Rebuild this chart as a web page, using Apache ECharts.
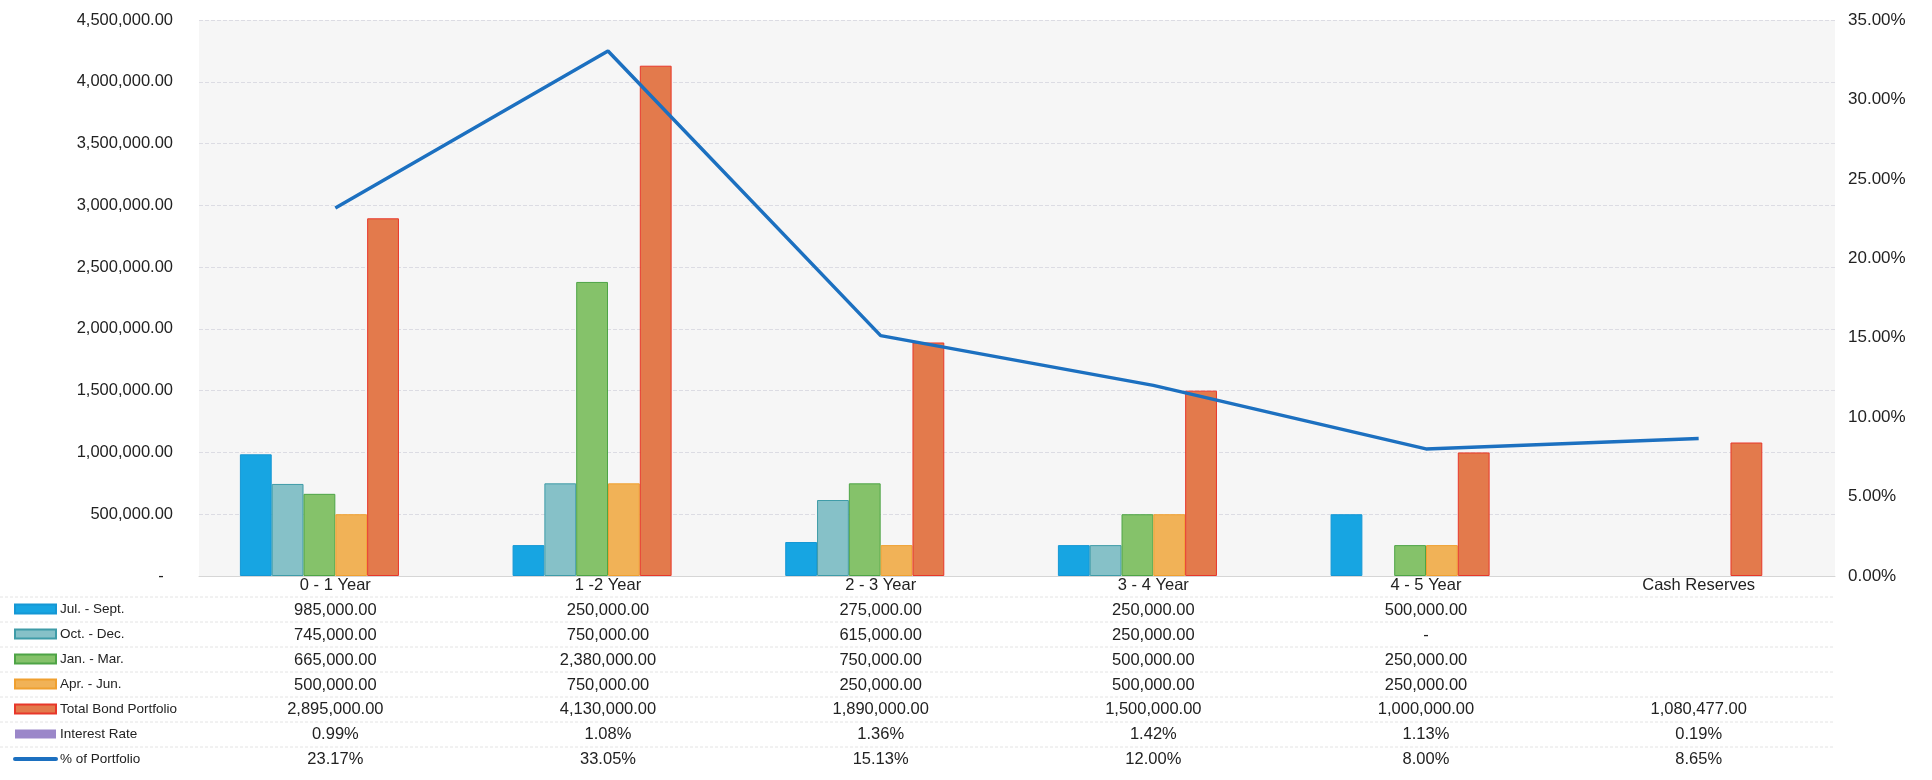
<!DOCTYPE html>
<html>
<head>
<meta charset="utf-8">
<title>Bond Portfolio Maturity</title>
<script src="https://cdn.jsdelivr.net/npm/echarts@6/dist/echarts.min.js"></script>
<style>
  html, body { margin: 0; padding: 0; background: #ffffff; }
  #chart { width: 1932px; height: 780px; }
</style>
</head>
<body>
<div id="chart"></div>
<script>
// Maturity buckets
const categories = ['0 - 1 Year', '1 -2 Year', '2 - 3 Year', '3 - 4 Year', '4 - 5 Year', 'Cash Reserves'];

// Quarterly purchases per bucket
const julSept = [985000, 250000, 275000, 250000, 500000, null];
const octDec = [745000, 750000, 615000, 250000, 0, null];
const janMar = [665000, 2380000, 750000, 500000, 250000, null];
const aprJun = [500000, 750000, 250000, 500000, 250000, null];
const totalBond = [2895000, 4130000, 1890000, 1500000, 1000000, 1080477];
const interestRate = [0.0099, 0.0108, 0.0136, 0.0142, 0.0113, 0.0019];
const pctPortfolio = [0.2317, 0.3305, 0.1513, 0.12, 0.08, 0.0865];

// Axis scales
const amountMax = 4500000;
const amountStep = 500000;
const pctMax = 0.35;
const pctStep = 0.05;

const FONT = '"Liberation Sans", Arial, sans-serif';
const TEXT = '#222222';

function money(v) {
  if (v === null || v === undefined) return ' ';
  if (v === 0) return '-';
  return v.toLocaleString('en-US', { minimumFractionDigits: 2, maximumFractionDigits: 2 });
}
function pct(v) {
  if (v === null || v === undefined) return ' ';
  return (v * 100).toFixed(2) + '%';
}

// Data-table column under each category: name then one line per series
const tableRows = [julSept, octDec, janMar, aprJun, totalBond];
function columnText(value, idx) {
  const lines = [value];
  tableRows.forEach(r => lines.push(money(r[idx])));
  lines.push(pct(interestRate[idx]));
  lines.push(pct(pctPortfolio[idx]));
  return lines.join('\n');
}

// Zero-valued bars get no outline so they leave no hairline on the axis
function barData(values) {
  return values.map(v => (v === 0 ? { value: 0, itemStyle: { borderWidth: 0 } } : v));
}

const barSeries = [
  { name: 'Jul. - Sept.', data: julSept, fill: '#17a5e2', edge: '#1597d4' },
  { name: 'Oct. - Dec.', data: octDec, fill: '#86c1c8', edge: '#3f9ca8' },
  { name: 'Jan. - Mar.', data: janMar, fill: '#85c26a', edge: '#4ea446' },
  { name: 'Apr. - Jun.', data: aprJun, fill: '#f1b257', edge: '#f0a030' },
  { name: 'Total Bond Portfolio', data: totalBond, fill: '#e37a4c', edge: '#e8372a' },
  { name: 'Interest Rate', data: interestRate, fill: '#9b87c9', edge: '#9b87c9' }
].map(s => ({
  name: s.name,
  type: 'bar',
  yAxisIndex: 0,
  data: barData(s.data),
  barGap: '0%',
  barCategoryGap: '30%',
  itemStyle: { color: s.fill, borderColor: s.edge, borderWidth: s.name === 'Interest Rate' ? 0 : 1 }
}));

// Faint data-table row rules
const ruleYs = [597, 622, 647, 672, 697, 722, 747];
const rules = ruleYs.map(y => ({
  type: 'line',
  shape: { x1: 0, y1: y, x2: 1835, y2: y },
  style: { stroke: '#e4e4e4', lineWidth: 1, lineDash: [3, 2] },
  silent: true
}));

const chart = echarts.init(document.getElementById('chart'), null, { renderer: 'canvas' });

chart.setOption({
  backgroundColor: '#ffffff',
  animation: false,
  textStyle: { fontFamily: FONT, color: TEXT },
  grid: {
    left: 199, right: 97, top: 20, bottom: 204,
    show: true, backgroundColor: '#f6f6f6', borderWidth: 0
  },
  legend: {
    orient: 'vertical',
    left: 13,
    top: 601,
    padding: 0,
    itemGap: 9,
    itemWidth: 41,
    itemHeight: 9,
    selectedMode: false,
    textStyle: { fontFamily: FONT, fontSize: 13.5, color: TEXT, lineHeight: 16, padding: [0, 0, 0, -1] },
    data: [
      { name: 'Jul. - Sept.', icon: 'rect' },
      { name: 'Oct. - Dec.', icon: 'rect' },
      { name: 'Jan. - Mar.', icon: 'rect' },
      { name: 'Apr. - Jun.', icon: 'rect' },
      { name: 'Total Bond Portfolio', icon: 'rect' },
      { name: 'Interest Rate', icon: 'rect' },
      { name: '% of Portfolio', itemStyle: { opacity: 0 }, lineStyle: { width: 4, cap: 'round' } }
    ]
  },
  xAxis: {
    type: 'category',
    data: categories,
    axisTick: { show: false },
    axisLine: { show: true, lineStyle: { color: '#d6d6d6', width: 1 } },
    axisLabel: {
      interval: 0,
      margin: -3,
      fontFamily: FONT,
      fontSize: 16.5,
      color: TEXT,
      lineHeight: 24.9,
      align: 'center',
      formatter: columnText
    },
    splitLine: { show: false }
  },
  yAxis: [
    {
      type: 'value',
      min: 0,
      max: amountMax,
      interval: amountStep,
      axisLine: { show: false },
      axisTick: { show: false },
      axisLabel: {
        margin: 26,
        fontFamily: FONT,
        fontSize: 16.5,
        color: TEXT,
        formatter: v => (v === 0 ? '-  ' : money(v))
      },
      splitLine: { show: true, lineStyle: { color: '#dcdce3', width: 1, type: [4, 2] } }
    },
    {
      type: 'value',
      min: 0,
      max: pctMax,
      interval: pctStep,
      position: 'right',
      axisLine: { show: false },
      axisTick: { show: false },
      axisLabel: {
        margin: 13,
        fontFamily: FONT,
        fontSize: 17,
        color: TEXT,
        formatter: v => pct(v)
      },
      splitLine: { show: false }
    }
  ],
  series: barSeries.concat([
    {
      name: '% of Portfolio',
      type: 'line',
      yAxisIndex: 1,
      data: pctPortfolio,
      symbol: 'none',
      smooth: false,
      lineStyle: { color: '#1c70c0', width: 3.5 },
      itemStyle: { color: '#1c70c0' },
      z: 5
    }
  ]),
  graphic: rules
});
</script>
</body>
</html>
